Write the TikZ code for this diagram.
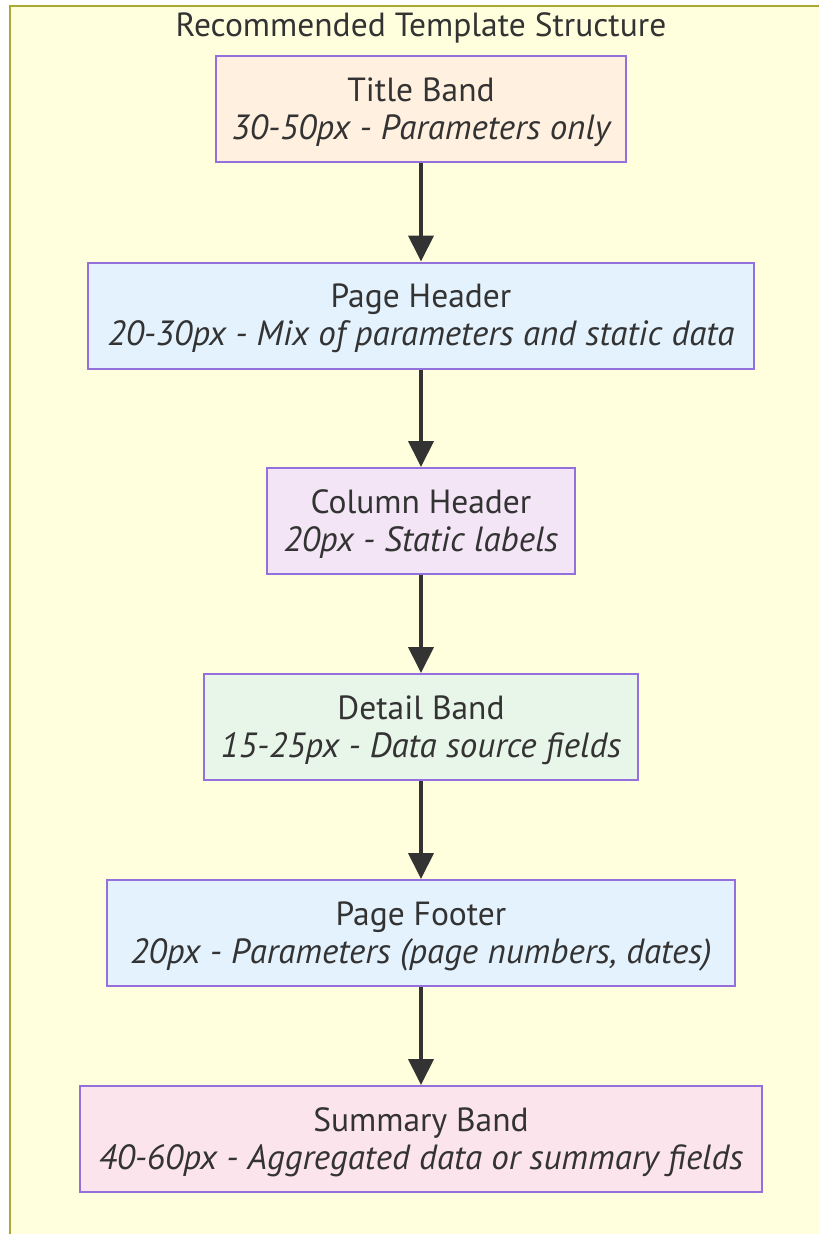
\documentclass[tikz,border=0pt]{standalone}
\usepackage{fontspec}
\setmainfont{PT Sans}
\usetikzlibrary{arrows.meta}
\definecolor{clusterfill}{HTML}{FFFFDE}
\definecolor{clusterline}{HTML}{AAAA33}
\definecolor{nodeline}{HTML}{9370DB}
\definecolor{txt}{HTML}{333333}
\definecolor{fillTitle}{HTML}{FFF0E0}
\definecolor{fillPage}{HTML}{E3F2FD}
\definecolor{fillColumn}{HTML}{F3E5F5}
\definecolor{fillDetail}{HTML}{E8F5E9}
\definecolor{fillSummary}{HTML}{FCE4EC}
\newcommand{\subline}[1]{{\fontsize{35}{38}\selectfont\itshape #1}}
\tikzset{
  band/.style={draw=nodeline, line width=2pt, minimum height=106pt, inner sep=0pt},
  bandtext/.style={text=txt, align=center, font=\fontsize{33.5}{38}\selectfont, yshift=-3pt},
  flow/.style={draw=txt, line width=4pt, -{Triangle[length=26pt,width=25pt]}}
}
\begin{document}
\begin{tikzpicture}[x=1pt,y=-1pt]
\useasboundingbox (0,0) rectangle (819,1234);
\clip (0,0) rectangle (819,1234);
\fill[white] (0,0) rectangle (819,1234);
% group frame
\draw[fill=clusterfill, draw=clusterline, line width=2pt] (10,6) rectangle (840,1260);
\node[text=txt, font=\fontsize{33.5}{38}\selectfont] (grp) at (421,28) {Recommended Template Structure};
% bands
\node[band, fill=fillTitle, minimum width=410pt,
  label={[bandtext]center:{Title Band\\\subline{30-50px - Parameters only}}}] (title) at (421,109) {};
\node[band, fill=fillPage, minimum width=666pt,
  label={[bandtext]center:{Page Header\\\subline{20-30px - Mix of parameters and static data}}}] (phead) at (421,315.5) {};
\node[band, fill=fillColumn, minimum width=308pt,
  label={[bandtext]center:{Column Header\\\subline{20px - Static labels}}}] (chead) at (421,521) {};
\node[band, fill=fillDetail, minimum width=434pt,
  label={[bandtext]center:{Detail Band\\\subline{15-25px - Data source fields}}}] (detail) at (421,727) {};
\node[band, fill=fillPage, minimum width=628pt,
  label={[bandtext]center:{Page Footer\\\subline{20px - Parameters (page numbers, dates)}}}] (pfoot) at (421,933) {};
\node[band, fill=fillSummary, minimum width=682pt,
  label={[bandtext]center:{Summary Band\\\subline{40-60px - Aggregated data or summary fields}}}] (summary) at (421,1139) {};
% connectors
\draw[flow] (title.south) -- (phead.north);
\draw[flow] (phead.south) -- (chead.north);
\draw[flow] (chead.south) -- (detail.north);
\draw[flow] (detail.south) -- (pfoot.north);
\draw[flow] (pfoot.south) -- (summary.north);
\end{tikzpicture}
\end{document}
